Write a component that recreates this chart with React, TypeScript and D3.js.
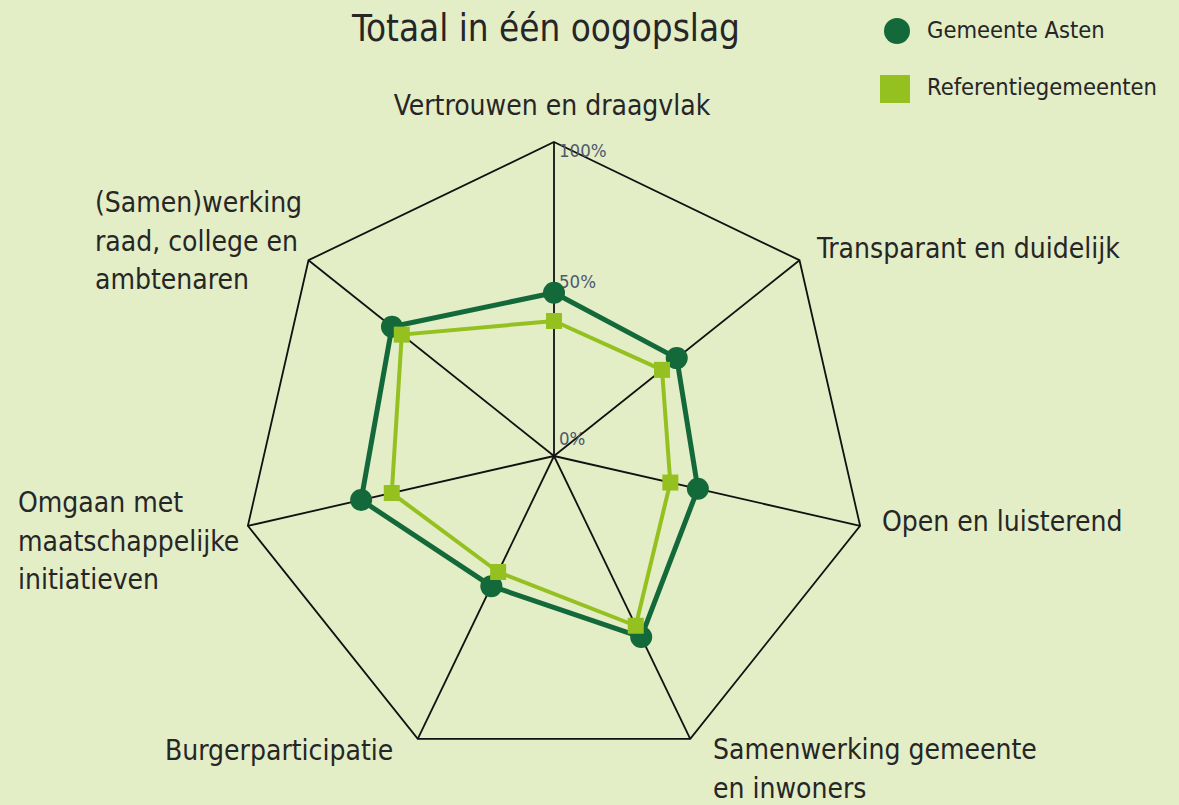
import * as d3 from 'd3'

const AXES = [
  'Vertrouwen en draagvlak',
  'Transparant en duidelijk',
  'Open en luisterend',
  'Samenwerking gemeente en inwoners',
  'Burgerparticipatie',
  'Omgaan met maatschappelijke initiatieven',
  '(Samen)werking raad, college en ambtenaren',
]
const ASTEN = [52, 50, 47, 64, 46, 63, 66]
const REFERENTIE = [43, 44, 38, 60, 41, 53, 62]
const TICKS = [0, 50, 100]

const W = 1179
const H = 805
const CX = 554
const CY = 456
const R = 314
const FONT = "'Liberation Sans Narrow', 'DejaVu Sans Condensed', sans-serif"
const TEXT = '#262626'
const DARK = '#14693a'
const LIGHT = '#94c11f'

// wrapped label lines and their text position
const LABELS: { lines: string[]; x: number; y: number; anchor: string }[] = [
  { lines: ['Vertrouwen en draagvlak'], x: 552, y: 115, anchor: 'middle' },
  { lines: ['Transparant en duidelijk'], x: 817, y: 258, anchor: 'start' },
  { lines: ['Open en luisterend'], x: 882, y: 531, anchor: 'start' },
  { lines: ['Samenwerking gemeente', 'en inwoners'], x: 713, y: 759, anchor: 'start' },
  { lines: ['Burgerparticipatie'], x: 165, y: 760, anchor: 'start' },
  { lines: ['Omgaan met', 'maatschappelijke', 'initiatieven'], x: 18, y: 512, anchor: 'start' },
  { lines: ['(Samen)werking', 'raad, college en', 'ambtenaren'], x: 95, y: 212, anchor: 'start' },
]

export default function App() {
  const angle = d3.scaleLinear().domain([0, AXES.length]).range([0, 2 * Math.PI])
  const r = d3.scaleLinear().domain([0, 100]).range([0, R])

  const pt = (i: number, v: number): [number, number] => {
    const a = angle(i) - Math.PI / 2
    return [r(v) * Math.cos(a), r(v) * Math.sin(a)]
  }

  const radial = d3.lineRadial<number>()
    .angle((_, i) => angle(i))
    .radius(d => r(d))
    .curve(d3.curveLinearClosed)

  const outline = radial(AXES.map(() => 100)) || ''

  return (
    <svg width={W} height={H} style={{ position: 'absolute', left: 0, top: 0, display: 'block' }}>
      <rect width={W} height={H} fill="#e3edc6" />

      <text x={546} y={41} fontFamily={FONT} fontSize={36.5} fill={TEXT} textAnchor="middle">
        Totaal in één oogopslag
      </text>

      {/* Legend */}
      <circle cx={897} cy={31} r={13} fill={DARK} />
      <text x={927} y={38} fontFamily={FONT} fontSize={23.5} fill={TEXT}>Gemeente Asten</text>
      <rect x={880} y={75} width={30} height={28} fill={LIGHT} />
      <text x={927} y={95} fontFamily={FONT} fontSize={23.5} fill={TEXT}>Referentiegemeenten</text>

      <g transform={`translate(${CX},${CY})`}>
        {AXES.map((_, i) => {
          const [x, y] = pt(i, 100)
          return <line key={i} x1={0} y1={0} x2={x} y2={y} stroke="#111" strokeWidth={1.8} />
        })}
        <path d={outline} fill="none" stroke="#111" strokeWidth={1.8} />

        {TICKS.map(t => (
          <text key={t} x={5} y={Math.max(-r(t) - 11, -R + 15)} fontFamily={FONT} fontSize={18.5} fill="#4d5a6e">
            {t}%
          </text>
        ))}

        <path d={radial(ASTEN) || ''} fill="none" stroke={DARK} strokeWidth={5} strokeLinejoin="round" />
        <path d={radial(REFERENTIE) || ''} fill="none" stroke={LIGHT} strokeWidth={4} strokeLinejoin="round" />

        {ASTEN.map((v, i) => {
          const [x, y] = pt(i, v)
          return <circle key={i} cx={x} cy={y} r={11} fill={DARK} />
        })}
        {REFERENTIE.map((v, i) => {
          const [x, y] = pt(i, v)
          return <rect key={i} x={x - 8} y={y - 8} width={16} height={16} fill={LIGHT} />
        })}
      </g>

      {LABELS.map((l, i) => (
        <text key={i} x={l.x} y={l.y} fontFamily={FONT} fontSize={28} fill={TEXT} textAnchor={l.anchor}>
          {l.lines.map((s, j) => (
            <tspan key={j} x={l.x} dy={j === 0 ? 0 : 38.5}>{s}</tspan>
          ))}
        </text>
      ))}
    </svg>
  )
}
